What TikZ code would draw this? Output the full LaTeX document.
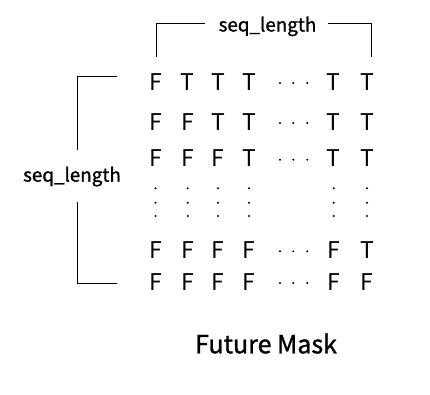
\documentclass[tikz,border=0pt]{standalone}
\usepackage{fontspec}
\setmainfont{Noto Sans CJK KR}
\newfontfamily\semib[FakeBold=1.2]{Noto Sans CJK KR}
\begin{document}
\begin{tikzpicture}[x=1pt,y=-1pt,
  cell/.style={anchor=base,inner sep=0pt,font=\fontsize{23}{23}\selectfont},
  lbl/.style={anchor=base,inner sep=0pt,font=\semib\fontsize{18.8}{19}\selectfont},
  ttl/.style={anchor=base,inner sep=0pt,font=\semib\fontsize{25}{25}\selectfont},
  brk/.style={line width=0.9pt},
  pt/.style={fill=black}]
\useasboundingbox (0,0) rectangle (430,394);
% grid
\foreach \r/\y/\vals in {1/90/{F,T,T,T,T,T},2/130/{F,F,T,T,T,T},3/166.7/{F,F,F,T,T,T},5/258.3/{F,F,F,F,F,T},6/290/{F,F,F,F,F,F}}{
  \foreach \v [count=\c] in \vals {
    \ifcase\c\or\def\xx{155.5}\or\def\xx{187.7}\or\def\xx{218}\or\def\xx{249}\or\def\xx{333.7}\or\def\xx{367}\fi
    \node[cell] (c-\r-\c) at (\xx,\y) {\v};
  }
  \foreach \dx in {280,293.3,307.3} \fill[pt] (\dx,\y-7) circle (1.1);
}
\foreach \xx in {155.5,187.7,218,249,333.7,367}
  \foreach \dy in {188.3,202.7,216} \fill[pt] (\xx,\dy) circle (1.1);
% top bracket
\node[lbl] (top) at (267.5,31.5) {seq\_length};
\coordinate (t1) at (156,56.7);
\coordinate (t2) at (205,23.3);
\coordinate (t3) at (328,23.3);
\coordinate (t4) at (371,56.7);
\draw[brk] (t1) |- (t2);
\draw[brk] (t3) -| (t4);
% left bracket
\node[lbl] (left) at (72,181.7) {seq\_length};
\coordinate (l1) at (117,76);
\coordinate (l2) at (77,150);
\coordinate (l3) at (77,201.7);
\coordinate (l4) at (117,283);
\draw[brk] (l1) -| (l2);
\draw[brk] (l3) |- (l4);
% title
\node[ttl] (title) at (266,353.3) {Future Mask};
\end{tikzpicture}
\end{document}
